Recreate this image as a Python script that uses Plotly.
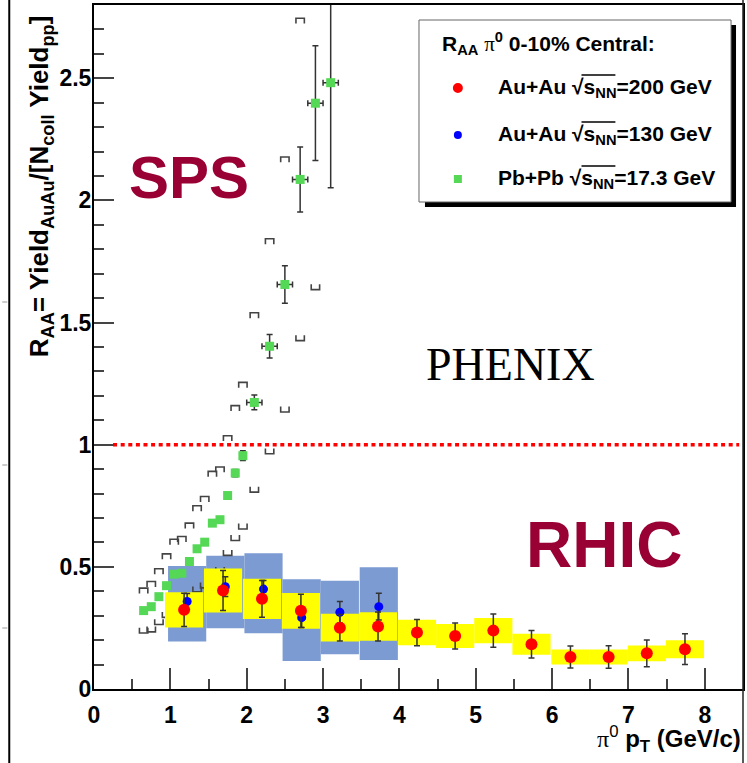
import plotly.graph_objects as go

# ---------------- data ----------------
# PHENIX Au+Au 200 GeV, pi0 R_AA, 0-10% central
auau200_pt = [1.18, 1.69, 2.20, 2.71, 3.22, 3.72, 4.23, 4.73, 5.23, 5.73, 6.24, 6.74, 7.24, 7.74]
auau200_raa = [0.324, 0.403, 0.369, 0.320, 0.251, 0.256, 0.231, 0.217, 0.239, 0.183, 0.131, 0.131, 0.146, 0.163]
auau200_stat = [0.068, 0.082, 0.075, 0.068, 0.054, 0.059, 0.054, 0.053, 0.068, 0.056, 0.045, 0.046, 0.055, 0.063]
auau200_sys = [0.072, 0.090, 0.082, 0.073, 0.057, 0.058, 0.052, 0.049, 0.052, 0.043, 0.031, 0.031, 0.032, 0.037]

# PHENIX Au+Au 130 GeV
auau130_pt = [1.22, 1.72, 2.22, 2.72, 3.22, 3.73]
auau130_raa = [0.358, 0.419, 0.409, 0.292, 0.314, 0.337]
auau130_stat = [0.033, 0.040, 0.035, 0.040, 0.044, 0.055]
auau130_sys_lo = [0.194, 0.249, 0.228, 0.115, 0.142, 0.119]
auau130_sys_hi = [0.504, 0.545, 0.556, 0.449, 0.443, 0.498]

# WA98 Pb+Pb 17.3 GeV
pbpb_pt = [0.65, 0.75, 0.85, 0.95, 1.05, 1.15, 1.25, 1.35, 1.45, 1.55, 1.65, 1.75, 1.85, 1.95,
           2.1, 2.3, 2.5, 2.7, 2.9, 3.1]
pbpb_raa = [0.321, 0.337, 0.378, 0.423, 0.470, 0.474, 0.522, 0.574, 0.601, 0.679, 0.693, 0.792,
            0.884, 0.955, 1.173, 1.403, 1.656, 2.086, 2.398, 2.482]
pbpb_stat = [0, 0, 0, 0, 0, 0, 0, 0, 0, 0, 0, 0, 0.015, 0.020, 0.030, 0.048, 0.077, 0.133, 0.235, 0.43]
pbpb_pt_err = [0] * 14 + [0.1] * 6
pbpb_sys = [0.092, 0.103, 0.114, 0.130, 0.143, 0.150, 0.157, 0.176, 0.187, 0.212, 0.216, 0.245,
            0.276, 0.300, 0.367, 0.440, 0.522, 0.660, 0.763, None]

x_ticks = [0, 1, 2, 3, 4, 5, 6, 7, 8]
y_ticks = [0, 0.5, 1, 1.5, 2, 2.5]

# ---------------- style ----------------
RED = "#ff0000"
BLUE = "#0000ff"
GREEN = "#55d855"
YELLOW = "#ffff00"
BAND_BLUE = "#7b9bd2"
MAROON = "#990033"
SANS = "Liberation Sans"
SERIF = "Liberation Serif"

W, H = 747, 763
ML, MR, MT, MB = 94, 2, 5, 74
PW, PH = W - ML - MR, H - MT - MB


def px(x):
    return (x - ML) / PW


def py(y):
    return (H - MB - y) / PH


fig = go.Figure()

# 130 GeV systematic bands
for x, lo, hi in zip(auau130_pt, auau130_sys_lo, auau130_sys_hi):
    fig.add_trace(go.Scatter(
        x=[x - 0.25, x + 0.25, x + 0.25, x - 0.25, x - 0.25],
        y=[lo, lo, hi, hi, lo], mode="lines", fill="toself",
        fillcolor=BAND_BLUE, line=dict(width=0), hoverinfo="skip", showlegend=False))

# 17.3 GeV systematic brackets
bw, bh = 0.055, 0.022
bx, by = [], []
for x, y, s in zip(pbpb_pt, pbpb_raa, pbpb_sys):
    if s is None:
        continue
    hi, lo = y + s, y - s
    bx += [x - bw, x - bw, x + bw, x + bw, None]
    by += [hi - bh, hi, hi, hi - bh, None]
    bx += [x - bw, x - bw, x + bw, x + bw, None]
    by += [lo + bh, lo, lo, lo + bh, None]
fig.add_trace(go.Scatter(x=bx, y=by, mode="lines", line=dict(color="#444444", width=1.6),
                         hoverinfo="skip", showlegend=False))

# 200 GeV systematic boxes
for x, y, s in zip(auau200_pt, auau200_raa, auau200_sys):
    fig.add_trace(go.Scatter(
        x=[x - 0.25, x + 0.25, x + 0.25, x - 0.25, x - 0.25],
        y=[y - s, y - s, y + s, y + s, y - s], mode="lines", fill="toself",
        fillcolor=YELLOW, line=dict(width=0), hoverinfo="skip", showlegend=False))

# R_AA = 1 reference
fig.add_trace(go.Scatter(x=[0.25, 8.45], y=[1, 1], mode="lines",
                         line=dict(color=RED, width=3.5, dash="4px,3.6px"),
                         hoverinfo="skip", showlegend=False))

err_style = dict(type="data", color="#333333", thickness=1.5, width=3)

fig.add_trace(go.Scatter(
    x=pbpb_pt, y=pbpb_raa, mode="markers",
    marker=dict(symbol="square", size=9, color=GREEN),
    error_y=dict(array=pbpb_stat, **err_style),
    error_x=dict(array=pbpb_pt_err, **err_style),
    showlegend=False))

fig.add_trace(go.Scatter(
    x=auau130_pt, y=auau130_raa, mode="markers",
    marker=dict(symbol="circle", size=9, color=BLUE),
    error_y=dict(array=auau130_stat, **err_style),
    showlegend=False))

fig.add_trace(go.Scatter(
    x=auau200_pt, y=auau200_raa, mode="markers",
    marker=dict(symbol="circle", size=12, color=RED),
    error_y=dict(array=auau200_stat, **err_style),
    showlegend=False))

shapes = []
annotations = []

# legend box with drop shadow
shapes.append(dict(type="rect", xref="paper", yref="paper",
                   x0=px(426), x1=px(738), y0=py(207), y1=py(25),
                   fillcolor="black", line=dict(width=0)))
shapes.append(dict(type="rect", xref="paper", yref="paper",
                   x0=px(420), x1=px(733), y0=py(202), y1=py(20),
                   fillcolor="white", line=dict(color="#666666", width=1)))

legend_rows = [
    (88, "circle", RED, 10, "Au+Au"),
    (135, "circle", BLUE, 8, "Au+Au"),
    (179, "square", GREEN, 8, "Pb+Pb"),
]
energies = ["200", "130", "17.3"]
for (yc, sym, col, sz, sysname), e in zip(legend_rows, energies):
    shapes.append(dict(type="circle" if sym == "circle" else "rect",
                       xref="paper", yref="paper",
                       xsizemode="pixel", ysizemode="pixel",
                       xanchor=px(459), yanchor=py(yc),
                       x0=-sz / 2, x1=sz / 2, y0=-sz / 2, y1=sz / 2,
                       fillcolor=col, line=dict(width=0)))
    annotations.append(dict(
        xref="paper", yref="paper", x=px(497), y=py(yc), xanchor="left", yanchor="middle",
        text=f"<b>{sysname} √s<sub>NN</sub>={e} GeV</b>", showarrow=False,
        font=dict(family=SANS, size=21, color="black")))
    # vinculum of the square root over s_NN
    shapes.append(dict(type="line", xref="paper", yref="paper",
                       x0=px(583), x1=px(617), y0=py(yc - 13), y1=py(yc - 13),
                       line=dict(color="black", width=1.5)))

annotations.append(dict(
    xref="paper", yref="paper", x=px(441), y=py(44), xanchor="left", yanchor="middle",
    text=("<b>R<sub>AA</sub> </b><span style='font-family:Liberation Serif'>π</span>"
          "<b><sup>0</sup> 0-10% Central:</b>"),
    showarrow=False, font=dict(family=SANS, size=21, color="black")))

# region labels
annotations.append(dict(xref="paper", yref="paper", x=px(189), y=py(177),
                        xanchor="center", yanchor="middle",
                        text="<b>SPS</b>", showarrow=False,
                        font=dict(family=SANS, size=60, color=MAROON)))
annotations.append(dict(xref="paper", yref="paper", x=px(606), y=py(545),
                        xanchor="center", yanchor="middle",
                        text="<b>RHIC</b>", showarrow=False,
                        font=dict(family=SANS, size=64, color=MAROON)))
annotations.append(dict(xref="paper", yref="paper", x=px(512), y=py(364),
                        xanchor="center", yanchor="middle",
                        text="PHENIX", showarrow=False,
                        font=dict(family=SERIF, size=46, color="black")))

# axis titles
annotations.append(dict(
    xref="paper", yref="paper", x=px(745), y=py(739), xanchor="right", yanchor="middle",
    text="<span style='font-family:Liberation Serif'>π</span><sup>0</sup> <b>p<sub>T</sub> (GeV/c)</b>",
    showarrow=False, font=dict(family=SANS, size=24, color="black")))
annotations.append(dict(
    xref="paper", yref="paper", x=px(40), y=py(13), xanchor="center", yanchor="top",
    textangle=-90,
    text="<b>R<sub>AA</sub>= Yield<sub>AuAu</sub>/[N<sub>coll</sub> Yield<sub>pp</sub>]</b>",
    showarrow=False, font=dict(family=SANS, size=26, color="black")))

# page frame lines
shapes.append(dict(type="line", xref="paper", yref="paper",
                   x0=px(9), x1=px(9), y0=py(0), y1=py(763),
                   line=dict(color="black", width=2)))
shapes.append(dict(type="line", xref="paper", yref="paper",
                   x0=px(745), x1=px(745), y0=py(0), y1=py(763),
                   line=dict(color="#222222", width=1.5)))
for yy in [302, 465, 628]:
    shapes.append(dict(type="line", xref="paper", yref="paper",
                       x0=px(2), x1=px(7), y0=py(yy), y1=py(yy),
                       line=dict(color="#bbbbbb", width=1.5)))

fig.update_layout(
    width=W, height=H,
    margin=dict(l=ML, r=MR, t=MT, b=MB, pad=0),
    paper_bgcolor="white", plot_bgcolor="white",
    shapes=shapes, annotations=annotations,
    showlegend=False,
    xaxis=dict(range=[0, 8.5], tickvals=x_ticks, ticks="inside", ticklen=21,
               tickwidth=1.5, tickcolor="#444444",
               minor=dict(dtick=0.5, tick0=0, ticks="inside", ticklen=10,
                          tickwidth=1.5, tickcolor="#444444"),
               showline=True, linecolor="black", linewidth=2, mirror=True,
               showgrid=False, zeroline=False, ticklabelstandoff=4,
               tickfont=dict(family=SANS, size=23, color="black", weight="bold")),
    yaxis=dict(range=[0, 2.8], tickvals=y_ticks, ticks="inside", ticklen=20,
               tickwidth=1.5, tickcolor="#444444",
               minor=dict(dtick=0.1, tick0=0, ticks="inside", ticklen=10,
                          tickwidth=1.5, tickcolor="#444444"),
               showline=True, linecolor="black", linewidth=2, mirror=True,
               showgrid=False, zeroline=False, ticklabelstandoff=-4,
               tickfont=dict(family=SANS, size=23, color="black", weight="bold")),
)

fig.write_html("out.html")
